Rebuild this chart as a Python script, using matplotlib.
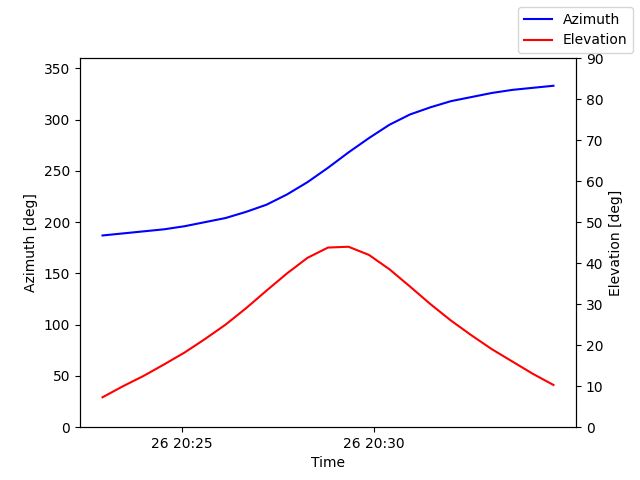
import matplotlib
matplotlib.use('Agg')
import matplotlib.pyplot as plt
import matplotlib.dates as mdates
import pandas as pd

times = pd.to_datetime(['2023-01-26 ' + t for t in [
    '20:22:56', '20:23:28', '20:24:00', '20:24:32', '20:25:04', '20:25:36',
    '20:26:08', '20:26:40', '20:27:12', '20:27:44', '20:28:16', '20:28:48',
    '20:29:20', '20:29:52', '20:30:24', '20:30:56', '20:31:28', '20:32:00',
    '20:32:32', '20:33:04', '20:33:36', '20:34:08', '20:34:40']])
azimuth = [187, 189, 191, 193, 196, 200, 204, 210, 217, 227, 239, 253,
           268, 282, 295, 305, 312, 318, 322, 326, 329, 331, 333]
elevation = [7.3, 10.0, 12.5, 15.3, 18.2, 21.5, 25.0, 29.0, 33.3, 37.5, 41.3, 43.8,
             44.0, 42.0, 38.5, 34.3, 30.0, 26.0, 22.4, 19.0, 16.0, 13.0, 10.3]

fig, ax = plt.subplots(figsize=(6.4, 4.8), dpi=100)
fig.subplots_adjust(left=0.125, right=0.9, top=0.879, bottom=0.11)
ax.plot(times, azimuth, 'b', label='Azimuth')
ax.set_ylim(0, 360)
ax.set_ylabel('Azimuth [deg]')
ax.set_xlabel('Time')
ax2 = ax.twinx()
ax2.plot(times, elevation, 'r', label='Elevation')
ax2.set_ylim(0, 90)
ax2.set_ylabel('Elevation [deg]')
ax.xaxis.set_major_locator(mdates.MinuteLocator(byminute=[25, 30]))
ax.xaxis.set_major_formatter(mdates.DateFormatter('%d %H:%M'))
fig.legend(loc='upper right')
fig.savefig('out.png')
